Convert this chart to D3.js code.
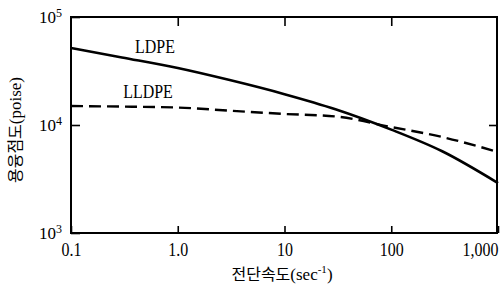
<!DOCTYPE html>
<html>
<head>
<meta charset="utf-8">
<script src="https://cdn.jsdelivr.net/npm/d3@7"></script>
<style>
  body { margin: 0; background: #fff; }
  svg { display: block; }
</style>
</head>
<body>
<div id="chart"></div>
<script>
// shear rate (sec^-1)
var rates = [0.1, 0.3, 1, 3, 10, 30, 100, 300, 1000];
// melt viscosity (poise)
var ldpe = [51600, 42200, 33700, 26200, 19300, 14000, 9060, 5710, 2900];
var lldpe = [15000, 14800, 14500, 13600, 12650, 12000, 9580, 7740, 5620];

var xTicks = [0.1, 1, 10, 100, 1000];
var xTickLabels = ["0.1", "1.0", "10", "100", "1,000"];
var yTicks = [1e3, 1e4, 1e5];
var yTickExp = ["3", "4", "5"];

var SERIF = "'Liberation Serif', 'DejaVu Serif', serif";
var KR = "'Noto Sans CJK KR', sans-serif";

var width = 500, height = 290;
var margin = {top: 17, right: 2, bottom: 57, left: 71};

var svg = d3.select("#chart").append("svg")
	.attr("width", width)
	.attr("height", height);

var x = d3.scaleLog().domain([0.1, 1000]).range([margin.left, width - margin.right]);
var y = d3.scaleLog().domain([1e3, 1e5]).range([height - margin.bottom, margin.top]);

// bottom axis with labels
var xAxis = svg.append("g")
	.attr("transform", "translate(0," + (height - margin.bottom) + ")")
	.call(d3.axisBottom(x).tickValues(xTicks).tickSizeInner(-7).tickSizeOuter(0).tickPadding(10)
		.tickFormat(function(d, i){ return xTickLabels[i]; }));
xAxis.attr("font-family", SERIF);
xAxis.select(".domain").remove();
xAxis.selectAll("text")
	.attr("font-size", 19)
	.attr("fill", "#000")
	.attr("transform", "scale(0.84,1)")
	.attr("text-anchor", function(d){ return d === 1000 ? "end" : "middle"; });
xAxis.selectAll("line").attr("stroke", "#000").attr("stroke-width", 1.6);

// top ticks
var xTop = svg.append("g")
	.attr("transform", "translate(0," + margin.top + ")")
	.call(d3.axisTop(x).tickValues([1, 10, 100]).tickSize(-9).tickFormat(""));
xTop.select(".domain").remove();
xTop.selectAll("line").attr("stroke", "#000").attr("stroke-width", 1.6);

// left axis with 10^n labels
var yAxis = svg.append("g")
	.attr("transform", "translate(" + margin.left + ",0)")
	.call(d3.axisLeft(y).tickValues(yTicks).tickSize(-9).tickPadding(9).tickFormat(""));
yAxis.attr("font-family", SERIF);
yAxis.select(".domain").remove();
yAxis.selectAll("line").attr("stroke", "#000").attr("stroke-width", 1.6);
yAxis.selectAll("text").each(function(d, i){
	var t = d3.select(this)
		.attr("font-size", 17)
		.attr("fill", "#000")
		.attr("dy", "0.35em");
	t.append("tspan").text("10");
	t.append("tspan").attr("font-size", 12).attr("dy", "-0.55em").text(yTickExp[i]);
});

// right ticks
var yRight = svg.append("g")
	.attr("transform", "translate(" + (width - margin.right) + ",0)")
	.call(d3.axisRight(y).tickValues([1e4]).tickSize(-9).tickFormat(""));
yRight.select(".domain").remove();
yRight.selectAll("line").attr("stroke", "#000").attr("stroke-width", 1.6);

// frame
svg.append("rect")
	.attr("x", margin.left)
	.attr("y", margin.top)
	.attr("width", width - margin.left - margin.right - 1)
	.attr("height", height - margin.top - margin.bottom)
	.attr("fill", "none")
	.attr("stroke", "#000")
	.attr("stroke-width", 2);

var line = d3.line()
	.x(function(d){ return x(d[0]); })
	.y(function(d){ return y(d[1]); })
	.curve(d3.curveMonotoneX);

svg.append("path")
	.datum(rates.map(function(r, i){ return [r, ldpe[i]]; }))
	.attr("d", line)
	.attr("fill", "none")
	.attr("stroke", "#000")
	.attr("stroke-width", 2.6);

svg.append("path")
	.datum(rates.map(function(r, i){ return [r, lldpe[i]]; }))
	.attr("d", line)
	.attr("fill", "none")
	.attr("stroke", "#000")
	.attr("stroke-width", 2.4)
	.attr("stroke-dasharray", "12,6");

// series labels
svg.append("text")
	.attr("font-family", SERIF)
	.attr("transform", "translate(155,53) scale(0.84,1)")
	.attr("text-anchor", "middle")
	.attr("font-size", 19)
	.text("LDPE");

svg.append("text")
	.attr("font-family", SERIF)
	.attr("transform", "translate(148,98) scale(0.84,1)")
	.attr("text-anchor", "middle")
	.attr("font-size", 19)
	.text("LLDPE");

// axis titles
var xt = svg.append("text")
	.attr("x", 282)
	.attr("y", 280)
	.attr("text-anchor", "middle")
	.attr("font-size", 16);
xt.append("tspan").attr("font-family", KR).text("전단속도");
xt.append("tspan").attr("font-family", SERIF).attr("font-size", 17).text("(sec");
xt.append("tspan").attr("font-family", SERIF).attr("font-size", 11).attr("dy", "-0.6em").text("-1");
xt.append("tspan").attr("font-family", SERIF).attr("font-size", 17).attr("dy", "0.4em").text(")");

var yt = svg.append("text")
	.attr("transform", "translate(21,130) rotate(-90)")
	.attr("text-anchor", "middle")
	.attr("font-size", 16);
yt.append("tspan").attr("font-family", KR).text("용융점도");
yt.append("tspan").attr("font-family", SERIF).attr("font-size", 17).text("(poise)");
</script>
</body>
</html>
